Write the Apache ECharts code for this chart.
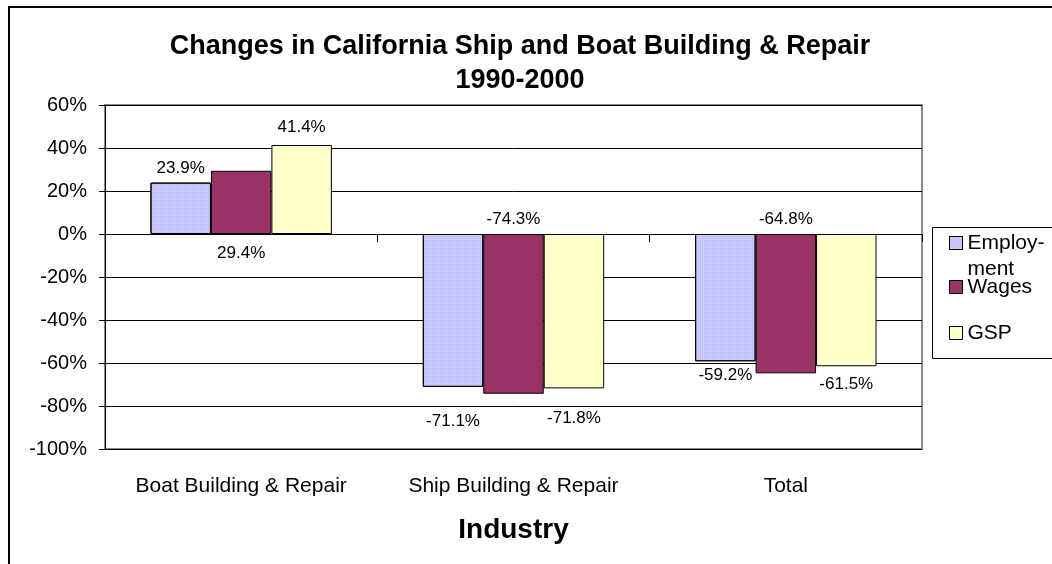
<!DOCTYPE html>
<html>
<head>
<meta charset="utf-8">
<script src="https://cdn.jsdelivr.net/npm/echarts@6/dist/echarts.min.js"></script>
<style>
html,body{margin:0;padding:0;background:#fff;}
#chart{width:1052px;height:564px;}
</style>
</head>
<body>
<div id="chart"></div>
<script>
const categories = ['Boat Building & Repair', 'Ship Building & Repair', 'Total'];
const seriesNames = ['Employment', 'Wages', 'GSP'];
const employment = [23.9, -71.1, -59.2];
const wages = [29.4, -74.3, -64.8];
const gsp = [41.4, -71.8, -61.5];
const yMin = -100, yMax = 60, yStep = 20;
const titleText = 'Changes in California Ship and Boat Building & Repair\n1990-2000';
const xAxisTitle = 'Industry';

const FONT = '"Liberation Sans", Arial, Helvetica, sans-serif';
const colors = { Employment: '#CCCCFF', Wages: '#993366', GSP: '#FFFFCC' };
// label placement mimicking the original layout: [position, distance]
const labelPlacement = {
  Employment: [['top', 6], ['bottom', 26], ['bottom', 6]],
  Wages: [['bottom', 11], ['top', 6], ['top', 6]],
  GSP: [['top', 9], ['bottom', 21], ['bottom', 10]]
};
const values = { Employment: employment, Wages: wages, GSP: gsp };

function makeSeries(name) {
  const place = labelPlacement[name];
  const itemStyle = { color: colors[name], borderColor: '#000', borderWidth: 1 };
  if (name === 'Employment') {
    itemStyle.decal = {
      symbol: 'rect', symbolSize: 1, dashArrayX: [1, 1], dashArrayY: [1, 1],
      color: 'rgba(170,170,235,0.55)', rotation: 0
    };
  }
  return {
    name: name,
    type: 'bar',
    xAxisIndex: 0,
    yAxisIndex: 0,
    barGap: '0%',
    barCategoryGap: '33.4%',
    itemStyle: itemStyle,
    label: {
      show: true,
      color: '#000',
      fontFamily: FONT,
      fontSize: 17,
      formatter: p => Number(p.value).toFixed(1) + '%'
    },
    data: values[name].map((v, i) => ({
      value: v,
      label: { position: place[i][0], distance: place[i][1] }
    }))
  };
}

const legendCommon = {
  orient: 'vertical',
  left: 949,
  padding: 0,
  itemGap: 0,
  itemWidth: 13,
  itemHeight: 13,
  icon: 'rect',
  selectedMode: false,
  itemStyle: { borderColor: '#000', borderWidth: 1 },
  textStyle: { fontFamily: FONT, fontSize: 21, color: '#000', lineHeight: 22 }
};

const option = {
  animation: false,
  backgroundColor: '#fff',
  title: {
    text: titleText,
    left: 515,
    top: 25,
    textAlign: 'center',
    textStyle: { fontFamily: FONT, fontSize: 27, fontWeight: 'bold', color: '#000', lineHeight: 34 }
  },
  legend: [
    Object.assign({}, legendCommon, {
      data: ['Employment'],
      top: 204,
      formatter: () => ' \nEmploy-\nment',
      textStyle: { fontFamily: FONT, fontSize: 21, color: '#000', lineHeight: 26 }
    }),
    Object.assign({}, legendCommon, { data: ['Wages'], top: 276 }),
    Object.assign({}, legendCommon, { data: ['GSP'], top: 322 })
  ],
  graphic: [
    {
      type: 'rect', z: -1, silent: true,
      shape: { x: 9, y: 7, width: 1100, height: 620 },
      style: { fill: 'none', stroke: '#000', lineWidth: 2 }
    },
    {
      type: 'rect', z: -1, silent: true,
      shape: { x: 932.5, y: 227.5, width: 200, height: 131 },
      style: { fill: 'none', stroke: '#000', lineWidth: 1 }
    }
  ],
  grid: {
    left: 105, right: 130, top: 105, bottom: 115,
    show: true, borderColor: '#8a8a8a', borderWidth: 2, backgroundColor: 'transparent'
  },
  xAxis: [
    {
      type: 'category',
      data: categories,
      axisLine: { show: true, onZero: true, lineStyle: { color: '#000', width: 1 } },
      axisTick: { show: true, length: 8, lineStyle: { color: '#000' } },
      axisLabel: { show: false },
      splitLine: { show: false }
    },
    {
      type: 'category',
      data: categories,
      position: 'bottom',
      axisLine: { show: false, onZero: false },
      axisTick: { show: false },
      axisLabel: { show: true, interval: 0, hideOverlap: false, margin: 27, fontFamily: FONT, fontSize: 21, color: '#000' },
      name: xAxisTitle,
      nameLocation: 'middle',
      nameGap: 67,
      nameTextStyle: { fontFamily: FONT, fontSize: 28, fontWeight: 'bold', color: '#000' }
    }
  ],
  yAxis: {
    type: 'value',
    min: yMin,
    max: yMax,
    interval: yStep,
    axisLine: { show: true, lineStyle: { color: '#000' } },
    axisTick: { show: true, length: 6, lineStyle: { color: '#000' } },
    axisLabel: { formatter: '{value}%', margin: 18, fontFamily: FONT, fontSize: 20, color: '#000' },
    splitLine: { show: true, lineStyle: { color: '#000', width: 1 } }
  },
  series: seriesNames.map(makeSeries)
};

const chart = echarts.init(document.getElementById('chart'), null, { renderer: 'canvas' });
chart.setOption(option);
</script>
</body>
</html>
